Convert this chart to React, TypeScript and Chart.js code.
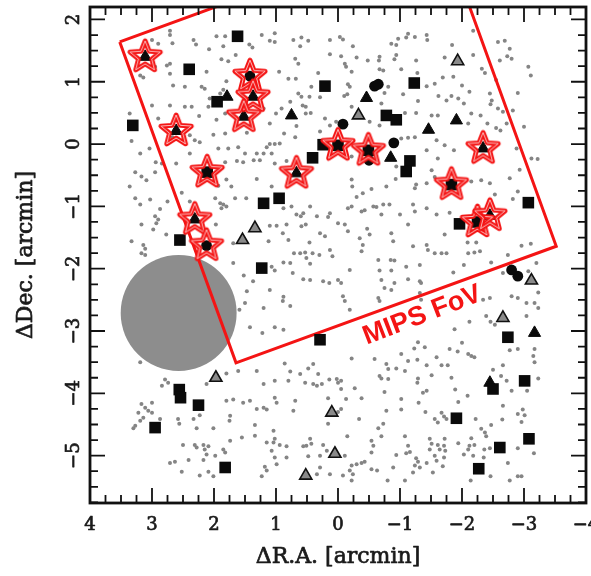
import { useEffect, useRef } from 'react';
import { Chart, registerables } from 'chart.js';
Chart.register(...registerables);

// ---- axes ----
const xTickLabels = [4, 3, 2, 1, 0, -1, -2, -3, -4];
const yTickLabels = [2, 1, 0, -1, -2, -3, -4, -5];
const xTitle = 'ΔR.A. [arcmin]';
const yTitle = 'ΔDec. [arcmin]';
const xMin = -4, xMax = 4, yMin = -5.76, yMax = 2.2;

// ---- MIPS field of view (square corners, arcmin) ----
const mipsCorners = [[3.52, 1.64], [1.645, -3.51], [-3.52, -1.64], [-1.645, 3.515], [3.52, 1.64]];
const mipsLabel = 'MIPS FoV';
const mipsLabelPos = [-1.36, -2.75];

// ---- grey beam disc ----
const beamCenter = [2.57, -2.71];
const beamRadius = 0.935;

// ---- small grey sources (by region) ----
const dotsNW = [[2.71,1.82],[2.71,1.75],[1.96,1.73],[1.82,1.73],[2.33,1.67],[2.29,1.60],[3.0,1.67],[2.90,1.61],[2.67,1.62],[1.43,1.60],[1.38,1.55],[1.23,1.75],[1.02,1.78],[1.10,1.66],[1.02,1.64],[0.72,1.67],[0.59,1.71],[0.48,1.66],[0.61,1.57],[0.13,1.67],[2.08,1.52],[1.85,1.57],[1.65,1.43],[0.13,1.44],[2.95,1.24],[2.76,1.26],[2.71,1.29],[1.88,1.36],[1.77,1.33],[2.12,1.16],[2.71,1.13],[0.69,1.37],[0.64,1.29],[0.95,1.16],[0.80,1.05],[0.68,1.05],[0.32,1.14],[3.25,1.20],[3.19,1.10],[3.14,1.07],[2.66,0.94],[2.47,0.92],[2.20,0.92],[2.15,0.89],[1.80,1.01],[1.85,0.87],[1.90,0.81],[2.07,0.73],[0.43,0.92],[0.64,0.81],[0.59,0.76],[0.46,0.76],[0.29,0.75],[0.77,0.68],[0.57,0.62],[0.52,0.60],[0.91,0.57],[1.0,0.49],[1.20,0.57],[3.0,0.62],[2.71,0.62],[2.47,0.60],[2.36,0.60],[2.09,0.60],[1.82,0.49],[3.36,0.49],[2.90,0.41],[2.24,0.45],[1.96,0.39],[1.10,0.33],[0.67,0.29],[0.52,0.49],[0.44,0.50],[0.21,0.41],[0.13,0.30],[0.03,0.36],[3.33,0.05],[2.67,0.11],[2.39,0.14],[2.01,0.15],[1.82,0.17],[1.47,0.18],[0.87,0.17],[0.69,0.11],[0.29,0.20],[3.19,-0.15],[3.04,-0.07],[2.31,0.06],[2.23,0.03],[2.39,-0.15],[1.93,-0.07],[1.77,-0.07],[1.61,-0.05],[1.50,-0.15],[1.31,-0.15],[1.15,-0.05],[1.10,0.0],[1.02,0.0],[0.94,0.01],[1.20,-0.15],[1.07,-0.15],[2.94,-0.29],[2.84,-0.31],[2.61,-0.31],[1.82,-0.29],[1.63,-0.27],[1.53,-0.29],[1.36,-0.26],[1.26,-0.26],[1.02,-0.31],[0.83,-0.27],[3.27,-0.45],[2.95,-0.45]];
const dotsNE = [[-0.03,1.72],[-0.08,1.68],[-0.24,1.57],[-0.05,1.41],[-0.30,1.39],[-0.48,1.34],[-0.67,1.40],[-0.66,1.34],[-0.86,1.61],[-0.97,1.69],[-0.94,1.59],[-1.13,1.77],[-1.10,1.71],[-1.24,1.72],[-1.43,1.75],[-1.44,1.67],[-1.84,1.59],[-0.94,1.43],[-0.91,1.36],[-0.11,1.29],[-0.13,1.24],[-0.22,1.16],[-0.67,1.20],[-0.73,1.18],[-1.02,1.20],[-1.26,1.34],[-1.28,1.14],[-1.72,1.39],[-2.18,1.82],[-2.18,1.43],[-2.58,1.64],[-2.69,1.66],[-2.77,1.53],[-2.61,1.34],[-2.73,1.41],[-2.80,1.37],[-2.32,1.21],[-2.37,1.14],[-3.07,1.24],[-3.11,1.10],[-2.55,1.03],[-0.16,0.96],[-0.19,0.92],[-0.10,0.77],[-0.15,0.80],[-0.81,0.92],[-0.75,0.82],[-0.70,0.65],[-1.05,0.80],[-1.43,0.93],[-1.56,0.97],[-1.69,1.07],[-1.86,1.08],[-2.0,0.94],[-2.12,0.84],[-1.62,0.77],[-1.75,0.70],[-1.83,0.77],[-1.94,0.73],[-2.03,0.65],[-1.29,0.69],[-2.45,0.81],[-2.48,0.70],[-2.46,0.64],[-2.90,0.82],[-0.22,0.60],[-0.51,0.36],[-0.67,0.30],[-1.08,0.50],[-1.26,0.50],[-1.51,0.46],[-1.61,0.46],[-2.15,0.49],[-2.30,0.46],[-2.10,0.33],[-2.58,0.57],[-2.66,0.52],[-2.82,0.54],[-2.41,0.33],[-2.55,0.26],[-2.62,0.22],[-2.72,0.33],[-3.0,0.28],[-1.02,0.09],[-1.13,0.10],[-1.24,0.11],[-1.59,0.06],[-1.72,-0.02],[-1.87,-0.10],[-1.43,-0.10],[-0.66,-0.05],[-0.22,-0.20],[-1.61,-0.23],[-2.88,-0.07],[-3.12,-0.23],[-3.22,-0.24],[-0.94,-0.36],[-1.51,-0.42],[-2.93,-0.41]];
const dotsW = [[3.36,-0.68],[3.17,-0.52],[3.09,-0.58],[3.27,-0.87],[3.19,-0.97],[3.03,-0.89],[2.87,-1.04],[2.75,-0.92],[2.52,-0.78],[2.39,-0.92],[2.95,-1.16],[2.90,-1.21],[2.93,-1.27],[2.98,-1.37],[3.17,-1.29],[2.77,-1.45],[3.33,-1.56],[3.14,-1.62],[3.11,-1.68],[3.17,-1.75],[3.11,-1.78],[1.98,-0.87],[1.90,-0.95],[1.85,-0.97],[1.88,-1.03],[1.80,-1.0],[1.93,-0.67],[1.72,-0.68],[1.80,-0.57],[1.66,-0.87],[1.48,-0.87],[1.31,-0.56],[1.07,-0.68],[1.97,-1.29],[1.69,-1.59],[1.10,-1.31],[1.12,-1.56],[1.69,-1.91],[1.52,-2.11],[1.37,-2.20],[1.10,-2.34],[0.88,-1.03],[0.75,-1.0],[0.67,-1.13],[0.60,-1.16],[0.56,-1.11],[0.45,-1.0],[0.34,-1.16],[0.13,-1.11],[0.16,-1.17],[0.99,-1.31],[0.83,-1.29],[0.59,-1.32],[0.52,-1.29],[0.89,-1.43],[0.80,-1.54],[0.29,-1.43],[0.21,-1.48],[0.46,-1.58],[0.71,-1.75],[0.61,-1.75],[0.53,-1.74],[0.41,-1.75],[0.30,-1.78],[0.13,-1.70],[1.07,-1.97],[1.02,-2.03],[0.88,-1.90],[0.77,-1.91],[0.73,-2.07],[0.51,-1.83],[0.45,-1.92],[0.09,-1.80],[0.56,-2.17],[0.45,-2.18],[0.24,-2.20],[0.14,-2.23],[1.47,-2.36],[0.88,-2.45],[0.89,-2.52],[1.20,-2.63],[0.77,-2.60],[1.50,-2.55],[1.59,-2.66],[1.42,-2.94],[1.22,-3.03],[1.02,-2.94],[0.88,-2.98]];
const dotsE = [[-0.22,-0.57],[-0.23,-0.68],[-0.40,-0.79],[-0.30,-0.85],[-0.54,-0.72],[-0.78,-0.68],[-0.93,-0.56],[-1.24,-0.71],[-1.26,-0.65],[-1.43,-0.63],[-1.56,-0.53],[-2.15,-0.60],[-2.31,-0.58],[-2.45,-0.63],[-2.77,-0.55],[-2.53,-0.81],[-2.82,-0.88],[-2.90,-0.76],[-0.22,-1.0],[-0.16,-1.03],[-0.38,-1.08],[-0.43,-1.06],[-0.57,-1.0],[-0.62,-1.01],[-0.73,-0.97],[-0.83,-0.97],[-0.70,-1.13],[-1.0,-1.13],[-1.21,-0.97],[-1.24,-1.08],[-1.43,-1.03],[-1.59,-1.13],[-1.80,-1.10],[0.0,-1.27],[-0.11,-1.29],[-0.16,-1.40],[-0.47,-1.36],[-0.51,-1.45],[-0.35,-1.51],[-0.40,-1.62],[-0.86,-1.43],[-0.89,-1.56],[-1.13,-1.29],[-1.72,-1.45],[-1.21,-1.64],[-1.43,-1.62],[-1.45,-1.70],[-1.56,-1.75],[-1.67,-1.75],[-1.75,-1.75],[-2.09,-1.58],[-2.23,-1.58],[-2.10,-1.75],[-2.20,-1.74],[-2.29,-1.72],[-2.74,-1.78],[-2.96,-1.63],[-3.11,-1.60],[-3.20,-1.91],[-0.19,-2.02],[-0.38,-1.72],[-0.65,-1.86],[-0.85,-1.86],[-0.91,-1.87],[-0.67,-2.03],[-0.86,-2.03],[-1.10,-1.97],[-1.32,-1.94],[-0.70,-2.18],[-0.75,-2.31],[-0.86,-2.34],[-0.91,-2.23],[-1.13,-2.17],[-1.32,-2.20],[-1.34,-2.23],[-1.86,-2.06],[-2.03,-1.94],[-2.47,-1.90],[-2.66,-2.07],[-3.07,-2.04],[0.0,-2.18],[-0.05,-2.23],[-0.08,-2.44],[-0.11,-2.52],[-0.19,-2.66],[-0.65,-2.47],[-0.67,-2.52],[-1.32,-2.39],[-1.34,-2.50],[-2.34,-2.50],[-2.45,-2.47],[-2.80,-2.44],[-2.90,-2.47],[-3.04,-2.55],[-3.17,-2.55],[-3.23,-2.63],[-3.23,-2.38],[-2.39,-2.76],[-2.46,-2.85],[-2.53,-2.90],[-2.12,-2.85],[-1.88,-2.97],[-3.04,-2.76]];
const dotsSW = [[3.19,-3.50],[2.84,-3.88],[2.79,-3.78],[2.74,-3.83],[2.12,-3.85],[1.80,-3.68],[1.61,-3.64],[1.31,-3.64],[1.20,-3.85],[1.02,-3.80],[0.80,-3.80],[0.77,-3.65],[0.86,-3.52],[0.61,-3.69],[0.48,-3.60],[0.40,-3.53],[0.32,-3.69],[0.53,-3.83],[0.40,-3.85],[0.34,-3.88],[0.26,-3.85],[0.14,-3.78],[0.02,-3.77],[1.80,-4.12],[1.69,-4.10],[1.53,-4.15],[1.42,-4.12],[1.31,-4.25],[1.20,-4.23],[1.15,-4.26],[1.02,-4.07],[0.99,-4.15],[0.69,-4.12],[0.72,-4.28],[0.16,-4.08],[3.17,-4.17],[3.0,-4.15],[3.11,-4.23],[3.22,-4.31],[3.06,-4.28],[3.0,-4.31],[3.14,-4.39],[3.19,-4.44],[3.27,-4.52],[3.30,-4.56],[2.87,-4.41],[2.58,-4.41],[2.56,-4.49],[2.33,-4.41],[2.23,-4.35],[1.74,-4.36],[1.75,-4.44],[2.28,-4.56],[2.01,-4.56],[1.34,-4.51],[1.34,-4.68],[1.55,-4.71],[1.74,-4.76],[1.04,-4.60],[1.02,-4.73],[1.04,-4.79],[1.15,-4.79],[0.94,-4.83],[0.83,-4.85],[1.07,-4.92],[0.45,-4.73],[0.51,-4.84],[0.43,-4.81],[0.56,-4.85],[0.24,-4.83],[0.18,-4.92],[0.16,-4.49],[2.50,-4.83],[2.31,-4.83],[2.28,-4.87],[2.17,-4.83],[2.15,-4.90],[2.09,-4.85],[2.12,-4.98],[2.17,-5.07],[1.98,-5.0],[1.85,-4.90],[1.82,-4.95],[2.71,-5.12],[2.63,-5.10],[2.41,-5.07],[2.52,-5.26],[2.23,-5.32],[2.09,-5.26],[2.01,-5.33],[1.18,-5.18],[1.15,-5.24],[1.02,-5.03],[0.99,-5.14],[0.83,-5.03],[0.48,-5.01],[0.29,-5.0],[0.29,-5.19],[0.34,-5.30],[0.13,-5.30],[1.23,-5.33]];
const dotsSE = [[-0.22,-3.44],[-0.59,-3.45],[-0.78,-3.53],[-0.81,-3.61],[-1.02,-3.37],[-1.13,-3.48],[-1.23,-3.28],[-1.29,-3.18],[-1.40,-3.26],[-1.28,-3.46],[-1.43,-3.55],[-1.59,-3.42],[-1.67,-3.55],[-1.77,-3.55],[-1.80,-3.29],[-1.93,-3.33],[-2.0,-3.19],[-2.10,-3.37],[-2.15,-3.40],[-2.20,-3.42],[-0.94,-3.60],[-1.08,-3.64],[-0.67,-3.72],[-0.70,-3.76],[-0.81,-3.77],[-1.29,-3.76],[-1.28,-3.83],[-1.51,-3.71],[-1.83,-3.75],[-2.50,-3.62],[-2.66,-3.55],[-2.63,-3.72],[-2.72,-3.80],[-2.77,-3.31],[-2.90,-3.29],[-3.17,-3.29],[-3.15,-3.40],[-3.17,-3.50],[-3.23,-3.76],[-3.05,-3.96],[-2.80,-3.96],[0.0,-3.83],[-0.05,-3.80],[-0.05,-3.93],[-0.27,-3.92],[-0.75,-3.98],[-1.37,-3.99],[-1.43,-3.96],[-1.89,-3.94],[-2.09,-4.04],[-1.94,-4.14],[-1.30,-4.15],[-1.02,-4.09],[-1.02,-4.26],[-0.13,-4.09],[-0.38,-4.08],[0.0,-4.30],[-0.05,-4.25],[-0.78,-4.28],[-1.41,-4.30],[-1.56,-4.41],[-1.61,-4.47],[-1.67,-4.31],[-1.71,-4.37],[-1.75,-4.41],[-2.22,-4.41],[-2.47,-4.51],[-2.31,-4.57],[-2.37,-4.63],[-2.39,-4.69],[-2.66,-4.20],[-2.65,-4.42],[-2.90,-4.33],[-2.98,-4.26],[-3.01,-4.35],[-2.96,-4.46],[-0.34,-4.41],[-0.65,-4.56],[-0.73,-4.49],[-0.70,-4.69],[-1.08,-4.69],[-0.15,-4.69],[-0.54,-4.76],[-0.57,-4.84],[-1.13,-4.84],[-1.16,-4.94],[-1.10,-4.96],[-1.48,-4.73],[-1.51,-4.81],[-1.48,-4.90],[-1.56,-5.0],[-1.61,-4.83],[-1.64,-4.90],[-1.72,-4.73],[-1.71,-4.84],[-1.73,-4.92],[-1.71,-5.03],[-1.94,-4.80],[-2.15,-4.72],[-2.12,-4.84],[-2.10,-4.90],[-2.20,-4.83],[-2.03,-4.98],[-2.18,-5.0],[-2.36,-4.90],[-2.45,-4.88],[-2.35,-5.03],[-2.74,-5.12],[-2.90,-4.88],[-3.16,-4.96],[-0.11,-5.0],[-0.54,-4.95],[-0.94,-4.99],[-1.26,-5.04],[-1.29,-5.10],[-1.24,-5.16],[-1.21,-5.27],[-1.32,-5.19],[-1.43,-5.12],[-1.53,-5.27],[-1.59,-5.08],[-1.69,-5.17],[-0.22,-5.16],[-0.30,-5.14],[-0.38,-5.12],[-0.43,-5.10],[-0.19,-5.24],[-0.24,-5.30],[-0.54,-5.22],[-0.63,-5.24],[-0.89,-5.19],[-0.08,-5.32],[-0.22,-5.40],[-0.80,-5.40],[-1.08,-5.40],[-2.14,-5.40],[-2.46,-5.33],[-2.77,-5.40],[-2.90,-5.33],[-2.96,-5.33]];

// ---- marked sources ----
const blackSquares = [[1.62,1.73],[2.40,1.20],[3.31,0.30],[1.95,0.68],[0.21,0.93],[0.24,-0.01],[0.41,-0.22],[-1.23,0.98],[-0.78,0.46],[-0.94,0.39],[-1.16,-0.27],[-1.10,-0.44],[1.20,-0.95],[0.95,-0.87],[2.55,-1.54],[1.23,-1.99],[-3.07,-0.94],[-1.96,-1.28],[-2.74,-3.10],[0.29,-3.14],[2.56,-3.94],[2.54,-4.07],[2.25,-4.19],[2.95,-4.55],[1.82,-5.19],[-3.01,-3.80],[-2.50,-3.93],[-1.91,-4.40],[-3.08,-4.73],[-2.61,-4.87],[-2.27,-5.21],[2.11,-0.45],[0.0,-0.02],[-0.49,-0.10],[-1.83,-0.65],[-2.25,-1.25]];
const blackTriangles = [[1.79,0.76],[0.75,0.46],[-0.46,0.74],[-1.46,0.23],[-1.91,0.38],[-0.85,-0.22],[-2.45,-3.83],[-3.17,-3.03],[3.11,1.40],[1.37,0.76],[1.52,0.44],[2.61,0.21],[2.31,-1.21],[0.67,-0.47],[-2.34,-0.07],[-2.45,-1.15]];
const blackCircles = [[-0.08,0.32],[-0.90,0.02],[-0.59,0.93],[-0.65,0.96],[-0.50,-0.26],[-2.90,-2.12],[-2.80,-2.02],[1.42,1.09],[2.12,-1.63]];
const greyTriangles = [[-1.93,1.33],[-0.33,0.46],[1.34,-1.35],[1.54,-1.54],[-3.12,-2.19],[-2.66,-2.79],[1.97,-3.75],[0.10,-4.31],[0.05,-4.97],[0.52,-5.32]];
const starSources = [[3.11,1.40],[1.42,1.09],[1.37,0.76],[1.52,0.44],[2.61,0.21],[2.11,-0.45],[2.31,-1.21],[2.12,-1.63],[0.67,-0.47],[0.0,-0.02],[-0.49,-0.10],[-2.34,-0.07],[-1.83,-0.65],[-2.25,-1.25],[-2.45,-1.15]];

const toPts = (arr: number[][]) => arr.map(([x, y]) => ({ x, y }));
const fmt = (v: number) => (v < 0 ? '\u2212' + Math.abs(v) : String(v));

function makeStar(): HTMLCanvasElement {
  const S = 46;
  const c = document.createElement('canvas');
  c.width = S; c.height = S;
  const g = c.getContext('2d')!;
  const R = 16, r = 7.0, cx = S / 2, cy = S / 2;
  g.beginPath();
  for (let k = 0; k < 10; k++) {
    const rad = k % 2 === 0 ? R : r;
    const a = -Math.PI / 2 + (k * Math.PI) / 5;
    const px = cx + rad * Math.cos(a), py = cy + rad * Math.sin(a);
    if (k === 0) g.moveTo(px, py); else g.lineTo(px, py);
  }
  g.closePath();
  g.lineJoin = 'round';
  g.strokeStyle = '#f41414';
  g.lineWidth = 4.8;
  g.stroke();
  g.strokeStyle = 'rgba(255,225,225,0.9)';
  g.lineWidth = 0.9;
  g.stroke();
  return c;
}

function label(ctx: CanvasRenderingContext2D, text: string, x: number, y: number) {
  ctx.strokeText(text, x, y);
  ctx.fillText(text, x, y);
}

const axesPlugin = {
  id: 'axesFrame',
  afterDatasetDraw(chart: any, args: any) {
    if (args.index !== 0) return;
    const { ctx, scales: { x, y }, chartArea } = chart;
    const cx = x.getPixelForValue(beamCenter[0]);
    const cy = y.getPixelForValue(beamCenter[1]);
    const r = Math.abs(x.getPixelForValue(beamCenter[0] + beamRadius) - cx);
    ctx.save();
    ctx.beginPath();
    ctx.rect(chartArea.left, chartArea.top, chartArea.right - chartArea.left, chartArea.bottom - chartArea.top);
    ctx.clip();
    ctx.beginPath();
    ctx.arc(cx, cy, r, 0, Math.PI * 2);
    ctx.fillStyle = '#8d8d8d';
    ctx.fill();
    ctx.restore();
  },
  afterDatasetsDraw(chart: any) {
    const { ctx, scales: { x, y } } = chart;
    const px = x.getPixelForValue(mipsLabelPos[0]);
    const py = y.getPixelForValue(mipsLabelPos[1]);
    ctx.save();
    ctx.translate(px, py);
    ctx.rotate((-21 * Math.PI) / 180);
    ctx.font = 'bold 27px "Liberation Sans", Arial, sans-serif';
    ctx.fillStyle = '#f41414';
    ctx.textAlign = 'center';
    ctx.textBaseline = 'middle';
    ctx.fillText(mipsLabel, 0, 0);
    ctx.restore();
  },
  afterDraw(chart: any) {
    const { ctx, chartArea: a, scales: { x, y } } = chart;
    ctx.save();
    ctx.strokeStyle = '#111';
    ctx.lineWidth = 1.8;
    ctx.beginPath();
    for (let i = Math.round(xMin * 4); i <= Math.round(xMax * 4); i++) {
      const v = i / 4;
      const p = x.getPixelForValue(v);
      const len = i % 4 === 0 ? 15 : 8;
      ctx.moveTo(p, a.bottom); ctx.lineTo(p, a.bottom - len);
      ctx.moveTo(p, a.top); ctx.lineTo(p, a.top + len);
    }
    for (let i = Math.ceil(yMin * 4); i <= Math.floor(yMax * 4); i++) {
      const v = i / 4;
      const p = y.getPixelForValue(v);
      const len = i % 4 === 0 ? 15 : 8;
      ctx.moveTo(a.left, p); ctx.lineTo(a.left + len, p);
      ctx.moveTo(a.right, p); ctx.lineTo(a.right - len, p);
    }
    ctx.stroke();
    ctx.lineWidth = 2.8;
    ctx.strokeRect(a.left, a.top, a.right - a.left, a.bottom - a.top);

    ctx.fillStyle = '#1a1a1a';
    ctx.strokeStyle = '#1a1a1a';
    ctx.lineWidth = 0.7;
    ctx.lineJoin = 'round';
    ctx.font = '18px "DejaVu Serif", serif';
    ctx.textAlign = 'center';
    ctx.textBaseline = 'middle';
    xTickLabels.forEach((v) => {
      label(ctx, fmt(v), x.getPixelForValue(v), a.bottom + 22);
    });
    yTickLabels.forEach((v) => {
      ctx.save();
      ctx.translate(a.left - 16, y.getPixelForValue(v));
      ctx.rotate(-Math.PI / 2);
      label(ctx, fmt(v), 0, 0);
      ctx.restore();
    });
    ctx.font = '22px "DejaVu Serif", serif';
    label(ctx, xTitle, (a.left + a.right) / 2, a.bottom + 54);
    ctx.save();
    ctx.translate(a.left - 64, (a.top + a.bottom) / 2);
    ctx.rotate(-Math.PI / 2);
    label(ctx, yTitle, 0, 0);
    ctx.restore();
    ctx.restore();
  },
};

export default function App() {
  const ref = useRef<HTMLCanvasElement>(null);
  useEffect(() => {
    if (!ref.current) return;
    const star = makeStar();
    const allDots = [...dotsNW, ...dotsNE, ...dotsW, ...dotsE, ...dotsSW, ...dotsSE];
    const chart = new Chart(ref.current, {
      type: 'scatter',
      data: {
        datasets: [
          { label: 'sources', data: toPts(allDots), pointRadius: 2, pointBackgroundColor: '#858585', pointBorderWidth: 0, order: 10 },
          { label: 'MIPS FoV', data: toPts(mipsCorners), showLine: true, pointRadius: 0, borderColor: '#f41414', borderWidth: 3, order: 6 } as any,
          { label: 'grey triangles', data: toPts(greyTriangles), pointStyle: 'triangle', pointRadius: 7, pointBackgroundColor: '#8a8a8a', pointBorderColor: '#111', pointBorderWidth: 1.6, order: 5 },
          { label: 'squares', data: toPts(blackSquares), pointStyle: 'rect', pointRadius: 8.2, pointBackgroundColor: '#0a0a0a', pointBorderWidth: 0, order: 4 },
          { label: 'triangles', data: toPts(blackTriangles), pointStyle: 'triangle', pointRadius: 7, pointBackgroundColor: '#0a0a0a', pointBorderColor: '#0a0a0a', pointBorderWidth: 1, order: 4 },
          { label: 'circles', data: toPts(blackCircles), pointStyle: 'circle', pointRadius: 5.4, pointBackgroundColor: '#0a0a0a', pointBorderWidth: 0, order: 4 },
          { label: 'stars', data: toPts(starSources), pointStyle: star as any, pointRadius: 16, order: 3 },
        ],
      },
      options: {
        responsive: false,
        animation: false,
        devicePixelRatio: 1,
        events: [],
        layout: { autoPadding: false, padding: { left: 90, right: 5, top: 7, bottom: 73 } },
        plugins: { legend: { display: false }, tooltip: { enabled: false } },
        scales: {
          x: { type: 'linear', min: xMin, max: xMax, reverse: true, display: false },
          y: { type: 'linear', min: yMin, max: yMax, display: false },
        },
      },
      plugins: [axesPlugin],
    });
    return () => chart.destroy();
  }, []);
  return (
    <div style={{ position: 'fixed', left: 0, top: 0, width: 591, height: 576, background: '#fff' }}>
      <canvas ref={ref} width={591} height={576} style={{ display: 'block' }} />
    </div>
  );
}
